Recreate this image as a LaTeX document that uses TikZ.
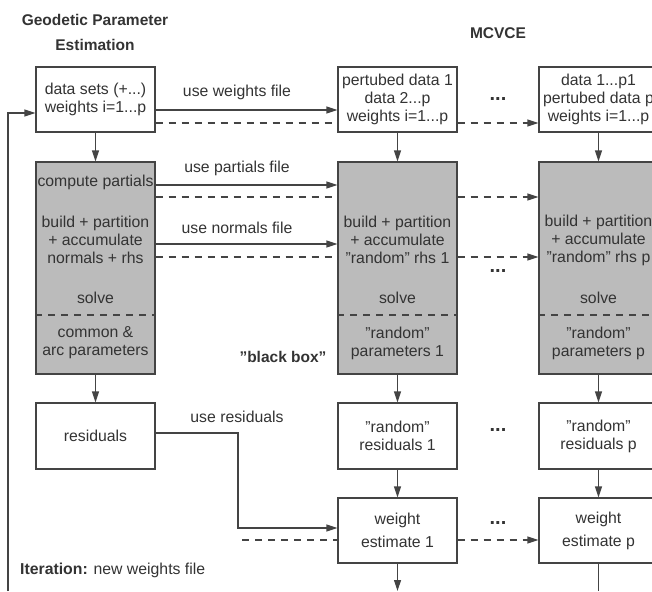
\documentclass[tikz,border=0pt]{standalone}
\usepackage{fontspec}
\setmainfont{Liberation Sans}
\usetikzlibrary{arrows.meta}
\definecolor{ln}{HTML}{444444}
\definecolor{tx}{HTML}{333333}
\definecolor{gf}{HTML}{BBBBBB}
\begin{document}
\begin{tikzpicture}[x=1pt,y=-1pt,
  every node/.style={text=tx,font=\fontsize{15.8}{18}\selectfont,inner sep=0pt},
  box/.style={draw=ln,line width=1.2pt,fill=white,minimum width=119pt,minimum height=65pt,align=center},
  gbox/.style={draw=ln,line width=1.2pt,fill=gf,minimum width=119pt,minimum height=212pt},
  arr/.style={draw=ln,line width=1.2pt,-{Triangle[length=11pt,width=7pt]}},
  ln/.style={draw=ln,line width=1.2pt},
  dsh/.style={draw=ln,line width=1.2pt,dash pattern=on 7pt off 6pt},
  darr/.style={dsh,-{Triangle[length=11pt,width=7pt]}},
  ttl/.style={font=\bfseries\fontsize{15.5}{18}\selectfont},
  dots/.style={font=\bfseries\fontsize{20}{18}\selectfont}]
\useasboundingbox (0,0) rectangle (652,591);
\clip (0,0) rectangle (652,591);
% titles
\node[ttl] (t1) at (95,20) {Geodetic Parameter};
\node[ttl] (t2) at (95,45) {Estimation};
\node[ttl] (t3) at (498,33) {MCVCE};
% top boxes
\node[box] (d0) at (95.5,99.5) {data sets (+...)\\weights i=1...p};
\node[box] (d1) at (397.5,99.5) {pertubed data 1\\data 2...p\\weights i=1...p};
\node[box] (dp) at (598.5,99.5) {data 1...p1\\pertubed data p\\weights i=1...p};
% gray boxes
\node[gbox] (g0) at (95.5,268) {};
\node[gbox] (g1) at (397.5,268) {};
\node[gbox] (gp) at (598.5,268) {};
\draw[dsh] (g0.west |- 0,315) -- (g0.east |- 0,315);
\draw[dsh] (g1.west |- 0,315) -- (g1.east |- 0,315);
\draw[dsh] (gp.west |- 0,315) -- (gp.east |- 0,315);
\node (c0) at (95.5,182) {compute partials};
\node[align=center] (b0) at (95.5,240) {build + partition\\+ accumulate\\normals + rhs};
\node[align=center] (b1) at (397.5,240) {build + partition\\+ accumulate\\"random" rhs 1};
\node[align=center] (bp) at (598.5,240) {build + partition\\+ accumulate\\"random" rhs p};
\node (s0) at (95.5,298) {solve};
\node (s1) at (397.5,298) {solve};
\node (sp) at (598.5,298) {solve};
\node[align=center] (p0) at (95.5,343) {common \&\\arc parameters};
\node[align=center] (p1) at (397.5,343) {"random"\\parameters 1};
\node[align=center] (pp) at (598.5,343) {"random"\\parameters p};
\node[ttl] (bb) at (283,357) {"black box"};
% residuals
\node[box,minimum height=66pt] (r0) at (95.5,436) {residuals};
\node[box,minimum height=66pt] (r1) at (397.5,436) {"random"\\residuals 1};
\node[box,minimum height=66pt] (rp) at (598.5,436) {"random"\\residuals p};
% weight estimates
\node[box] (w1) at (397.5,530.5) {weight\\[5pt]estimate 1};
\node[box] (wp) at (598.5,530.5) {weight\\[5pt]estimate p};
% dots
\node[dots] (k1) at (498,99) {...};
\node[dots] (k2) at (498,271) {...};
\node[dots] (k3) at (498,430) {...};
\node[dots] (k4) at (498,523) {...};
% labels
\node (l1) at (237,92) {use weights file};
\node (l2) at (237,168) {use partials file};
\node (l3) at (237,228) {use normals file};
\node (l4) at (237,417) {use residuals};
\node[anchor=west] (it) at (20,570) {\textbf{Iteration:} new weights file};
% vertical arrows
\draw[arr] (d0) -- (g0);
\draw[arr] (d1) -- (g1);
\draw[arr] (dp) -- (gp);
\draw[arr] (g0) -- (r0);
\draw[arr] (g1) -- (r1);
\draw[arr] (gp) -- (rp);
\draw[arr] (r1) -- (w1);
\draw[arr] (rp) -- (wp);
\coordinate (e1) at (397.5,591);
\coordinate (ep) at (598.5,591);
\draw[arr] (w1) -- (e1);
\draw[ln] (wp) -- (ep);
% horizontal: weights
\draw[arr] ([yshift=-10.5pt]d0.east) -- ([yshift=-10.5pt]d1.west);
\draw[dsh] ([yshift=-23.5pt]d0.east) -- ([yshift=-23.5pt]d1.west);
\draw[darr] ([yshift=-23.5pt]d1.east) -- ([yshift=-23.5pt]dp.west);
% partials
\draw[arr] ([yshift=83pt]g0.east) -- ([yshift=83pt]g1.west);
\draw[dsh] ([yshift=71pt]g0.east) -- ([yshift=71pt]g1.west);
\draw[darr] ([yshift=71pt]g1.east) -- ([yshift=71pt]gp.west);
% normals
\draw[arr] ([yshift=24pt]g0.east) -- ([yshift=24pt]g1.west);
\draw[dsh] ([yshift=11pt]g0.east) -- ([yshift=11pt]g1.west);
\draw[darr] ([yshift=11pt]g1.east) -- ([yshift=11pt]gp.west);
% residuals to weight
\coordinate (rk) at (238,433);
\coordinate (rd) at (238,528);
\coordinate (rs) at (242,540);
\draw[arr] ([yshift=3pt]r0.east) -- (rk) -- (rd) -- ([yshift=2.5pt]w1.west);
\draw[dsh] (rs) -- ([yshift=-9.5pt]w1.west);
\draw[darr] ([yshift=-9.5pt]w1.east) -- ([yshift=-9.5pt]wp.west);
% iteration loop
\coordinate (lb) at (8,591);
\coordinate (lt) at (8,113);
\draw[arr] (lb) -- (lt) -- ([yshift=-13.5pt]d0.west);
\end{tikzpicture}
\end{document}
